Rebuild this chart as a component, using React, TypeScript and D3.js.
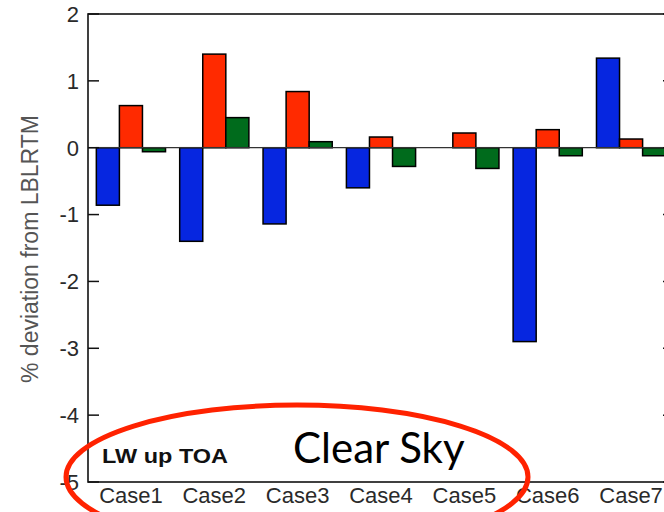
import { useEffect, useRef } from "react";
import * as d3 from "d3";

const cases = ["Case1", "Case2", "Case3", "Case4", "Case5", "Case6", "Case7"];
const series = ["blue", "red", "green"];
const blueVals = [-0.86, -1.4, -1.14, -0.6, 0, -2.9, 1.34];
const redVals = [0.63, 1.4, 0.84, 0.16, 0.22, 0.27, 0.13];
const greenVals = [-0.06, 0.45, 0.09, -0.28, -0.31, -0.12, -0.12];
const yTicks = [2, 1, 0, -1, -2, -3, -4, -5];
const colors: Record<string, string> = { blue: "#0626e0", red: "#ff2a00", green: "#006b1c" };

const FONT = "Liberation Sans, Arial, sans-serif";

export default function App() {
  const ref = useRef<SVGSVGElement>(null);

  useEffect(() => {
    if (!ref.current) return;
    const svg = d3.select(ref.current);
    svg.selectAll("*").remove();

    const left = 88, right = 674, top = 14, bottom = 482;
    const y = d3.scaleLinear().domain([-5, 2]).range([bottom, top]);
    const x = d3.scaleBand().domain(cases).range([left, right]).paddingInner(0.17).paddingOuter(0.1);
    const xs = d3.scaleBand().domain(series).range([0, x.bandwidth()]);

    const rows = cases.map((c, i) => ({ c, vals: [blueVals[i], redVals[i], greenVals[i]] }));

    // bars
    const g = svg.append("g");
    rows.forEach((r) => {
      r.vals.forEach((v, j) => {
        if (v === 0) return;
        const s = series[j];
        g.append("rect")
          .attr("x", (x(r.c) ?? 0) + (xs(s) ?? 0))
          .attr("y", y(Math.max(0, v)))
          .attr("width", xs.bandwidth())
          .attr("height", Math.abs(y(v) - y(0)))
          .attr("fill", colors[s])
          .attr("stroke", "#000")
          .attr("stroke-width", 1.5);
      });
    });

    // zero line
    svg.append("line")
      .attr("x1", left).attr("x2", right)
      .attr("y1", y(0)).attr("y2", y(0))
      .attr("stroke", "#333").attr("stroke-width", 1.2);

    // frame
    svg.append("rect")
      .attr("x", left).attr("y", top)
      .attr("width", right - left).attr("height", bottom - top)
      .attr("fill", "none").attr("stroke", "#111").attr("stroke-width", 1.6);

    // ticks in, both sides
    yTicks.forEach((t) => {
      svg.append("line").attr("x1", left).attr("x2", left + 11)
        .attr("y1", y(t)).attr("y2", y(t)).attr("stroke", "#111").attr("stroke-width", 1.5);
      svg.append("line").attr("x1", right - 11).attr("x2", right)
        .attr("y1", y(t)).attr("y2", y(t)).attr("stroke", "#111").attr("stroke-width", 1.5);
      svg.append("text")
        .attr("x", 79).attr("y", y(t)).attr("dy", "0.36em")
        .attr("text-anchor", "end")
        .attr("font-family", FONT).attr("font-size", 22)
        .attr("fill", "#2a2a2a")
        .text(String(t));
    });

    // category labels
    cases.forEach((c) => {
      svg.append("text")
        .attr("x", (x(c) ?? 0) + x.bandwidth() / 2).attr("y", 503)
        .attr("text-anchor", "middle")
        .attr("font-family", FONT).attr("font-size", 22)
        .attr("fill", "#2a2a2a")
        .text(c);
    });

    // y title
    svg.append("text")
      .attr("transform", "translate(38,249) rotate(-90)")
      .attr("text-anchor", "middle")
      .attr("font-family", FONT).attr("font-size", 23)
      .attr("fill", "#555")
      .text("% deviation from LBLRTM");

    svg.append("text")
      .attr("x", 102).attr("y", 463)
      .attr("font-family", FONT).attr("font-weight", "bold").attr("font-size", 21)
      .attr("textLength", 126).attr("lengthAdjust", "spacingAndGlyphs")
      .attr("fill", "#111")
      .text("LW up TOA");

    svg.append("text")
      .attr("x", 293).attr("y", 463)
      .attr("font-family", "Lato").attr("font-size", 42)
      .attr("fill", "#000")
      .text("Clear Sky");

    svg.append("ellipse")
      .attr("cx", 297).attr("cy", 477).attr("rx", 231).attr("ry", 72)
      .attr("fill", "none").attr("stroke", "#ff2200").attr("stroke-width", 5);
  }, []);

  return (
    <svg ref={ref} width={664} height={512}
      style={{ position: "fixed", left: 0, top: 0, background: "#fff" }} />
  );
}
